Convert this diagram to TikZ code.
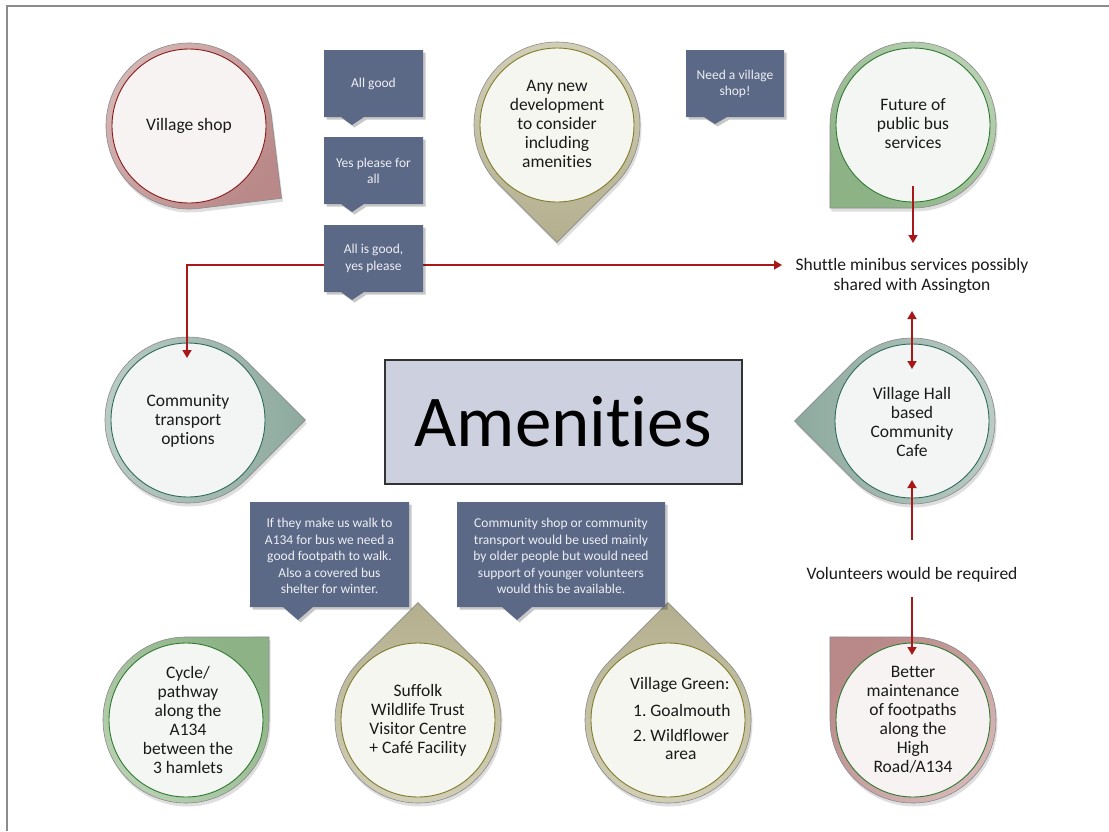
\documentclass[tikz,border=0pt]{standalone}
\usepackage{fontspec}
\setmainfont{Carlito}[Ligatures=NoCommon]
\usetikzlibrary{arrows.meta,calc}
\definecolor{callfill}{HTML}{5B6886}
\definecolor{calltxt}{HTML}{EDEFF4}
\definecolor{arrred}{HTML}{A81818}
\definecolor{boxfill}{HTML}{CDD1DF}
\definecolor{txt}{HTML}{1A1A1A}
\definecolor{ringedge}{HTML}{8A8A8A}
\definecolor{framegray}{HTML}{8C8C8C}
\definecolor{pinkL}{HTML}{D6B6B6}\definecolor{pinkD}{HTML}{B98888}
\definecolor{oliveL}{HTML}{D3D0B8}\definecolor{oliveD}{HTML}{B3AF8E}
\definecolor{greenL}{HTML}{B7D0B1}\definecolor{greenD}{HTML}{8DB286}
\definecolor{tealL}{HTML}{BCCDC6}\definecolor{tealD}{HTML}{8DA99E}
\definecolor{bRed}{HTML}{8B1A1A}\definecolor{bOlive}{HTML}{7F7C2C}
\definecolor{bGreen}{HTML}{2F7A31}\definecolor{bTeal}{HTML}{2F6B5D}
\definecolor{fPink}{HTML}{F7F3F3}\definecolor{fOlive}{HTML}{F6F6F1}
\definecolor{fGreen}{HTML}{F3F6F3}\definecolor{fTeal}{HTML}{F3F5F4}
\tikzset{
  ctext/.style={align=center,font=\fontsize{17.5}{19}\selectfont,text=txt,inner sep=0pt},
  ltext/.style={anchor=base west,font=\fontsize{17.5}{19}\selectfont,text=txt,inner sep=0pt},
  btext/.style={align=center,font=\fontsize{13.5}{16.5}\selectfont,text=calltxt,inner sep=0pt},
  redline/.style={draw=arrred,line width=1.6pt},
  redtip/.style={-{Triangle[length=8pt,width=9pt]}},
  redtips/.style={{Triangle[length=8pt,width=9pt]}-{Triangle[length=8pt,width=9pt]}},
}
% name, x, y, corner angle, palette, inner border, inner fill, shading angle
\newcommand\droplet[8]{%
  \fill[black,opacity=0.13] ($(#2,#3)+(1.5,3.5)+(#4+45:83)$) arc[start angle=#4+45,delta angle=270,radius=83] -- ($(#2,#3)+(1.5,3.5)+(#4:117.4)$) -- cycle;
  \draw[draw=ringedge,line width=0.6pt,top color=#5L,bottom color=#5D,shading angle=#8] ($(#2,#3)+(#4+45:83)$) arc[start angle=#4+45,delta angle=270,radius=83] -- ($(#2,#3)+(#4:117.4)$) -- cycle;
  \draw[draw=#6,line width=0.9pt,fill=#7] (#2,#3) circle[radius=77];
  \coordinate (#1) at (#2,#3);
}
% name, x1, y1, x2, y2, base left, base right, tip x, tip y
\newcommand\callout[9]{%
  \fill[black,opacity=0.22] (#2+2.5,#3+2.5) -- (#4+2.5,#3+2.5) -- (#4+2.5,#5+2.5) -- (#7+2.5,#5+2.5) -- (#8+2.5,#9+2.5) -- (#6+2.5,#5+2.5) -- (#2+2.5,#5+2.5) -- cycle;
  \fill[callfill] (#2,#3) -- (#4,#3) -- (#4,#5) -- (#7,#5) -- (#8,#9) -- (#6,#5) -- (#2,#5) -- cycle;
  \coordinate (#1) at ({(#2+#4)/2},{(#3+#5)/2});
}
\begin{document}
\begin{tikzpicture}[x=1pt,y=-1pt]
\useasboundingbox[fill=white] (0,0) rectangle (1109,831);
\draw[framegray,line width=2pt] (7,831) -- (7,6) -- (1109,6);

% droplets
\droplet{vshop}{189}{126}{38}{pink}{bRed}{fPink}{52}
\droplet{anynew}{557}{125}{90}{olive}{bOlive}{fOlive}{0}
\droplet{future}{913}{125}{135}{green}{bGreen}{fGreen}{-45}
\droplet{commtr}{188}{420}{0}{teal}{bTeal}{fTeal}{90}
\droplet{vhall}{912}{421}{180}{teal}{bTeal}{fTeal}{-90}
\droplet{cycle}{186}{720}{-45}{green}{bGreen}{fGreen}{135}
\droplet{suffolk}{418}{720}{-90}{olive}{bOlive}{fOlive}{180}
\droplet{vgreen}{668}{720}{-90}{olive}{bOlive}{fOlive}{180}
\droplet{better}{913}{720}{-135}{pink}{bGreen}{fPink}{225}

% central box
\node[draw=black!80,line width=1.2pt,fill=boxfill,minimum width=357pt,minimum height=124pt,inner sep=0pt,
      font=\fontsize{73}{80}\selectfont,text=black] (amen) at (563.5,422) {Amenities};

% connectors
\coordinate (futA) at (913,186);
\coordinate (shuA) at (913,243);
\coordinate (hl) at (187,265);
\coordinate (hr) at (782,265);
\coordinate (ctA) at (187,358);
\coordinate (shuB) at (912,311);
\coordinate (vhA) at (912,369);
\coordinate (volA) at (912,540);
\coordinate (vhB) at (912,480);
\coordinate (volB) at (912,597);
\coordinate (btA) at (912,655);
\draw[redline,redtip] (futA) -- (shuA);
\draw[redline,redtips,line join=miter] (hr) -- (hl) -- (ctA);
\draw[redline,redtips] (shuB) -- (vhA);
\draw[redline,redtip] (volA) -- (vhB);
\draw[redline,redtip] (volB) -- (btA);

% callouts
\callout{c1}{324}{50}{423}{117}{341}{364}{352}{125}
\callout{c2}{324}{137}{423}{204}{341}{364}{352}{212}
\callout{c3}{324}{225}{423}{292}{341}{364}{352}{300}
\callout{c4}{686}{50}{784}{117}{704}{727}{715}{124}
\callout{c5}{250}{502}{409}{607}{283}{313}{298}{620}
\callout{c6}{457}{502}{665}{607}{502}{532}{517}{620}

\node[btext] (t1) at ($(c1)+(0,0.5)$) {All good};
\node[btext] (t2) at ($(c2)+(0,0.5)$) {Yes please for\\all};
\node[btext] (t3) at (c3) {All is good,\\yes please};
\node[btext] (t4) at ($(c4)+(0,0.5)$) {Need a village\\shop!};
\node[btext] (t5) at ($(c5)+(0,1.5)$) {If they make us walk to\\A134 for bus we need a\\good footpath to walk.\\Also a covered bus\\shelter for winter.};
\node[btext] (t6) at ($(c6)+(0,1.5)$) {Community shop or community\\transport would be used mainly\\by older people but would need\\support of younger volunteers\\would this be available.};

% droplet texts
\node[ctext] (vshopT) at (vshop) {Village shop};
\node[ctext] (anynewT) at ($(anynew)+(0,-1)$) {Any new\\development\\to consider\\including\\amenities};
\node[ctext] (futureT) at ($(future)+(0,-1)$) {Future of\\public bus\\services};
\node[ctext] (commtrT) at ($(commtr)+(0,1)$) {Community\\transport\\options};
\node[ctext] (vhallT) at ($(vhall)+(0,1)$) {Village Hall\\based\\Community\\Cafe};
\node[ctext] (cycleT) at ($(cycle)+(2,0)$) {Cycle/\\pathway\\along the\\A134\\between the\\3 hamlets};
\node[ctext] (suffolkT) at (suffolk) {Suffolk\\Wildlife Trust\\Visitor Centre\\+ Café Facility};
\node[ltext] (vg1) at (630,689) {Village Green:};
\node[ltext] (vg2) at (633,716) {1.\ Goalmouth};
\node[ltext] (vg3) at (633,741) {2.\ Wildflower};
\node[ltext] (vg4) at (665,759) {area};
\node[ctext] (betterT) at (better) {Better\\maintenance\\of footpaths\\along the\\High\\Road/A134};

% free texts
\node[ctext,font=\fontsize{17.5}{20}\selectfont] (shuttle) at (912,276) {Shuttle minibus services possibly\\shared with Assington};
\node[ctext] (vol) at (912,575) {Volunteers would be required};
\end{tikzpicture}
\end{document}
